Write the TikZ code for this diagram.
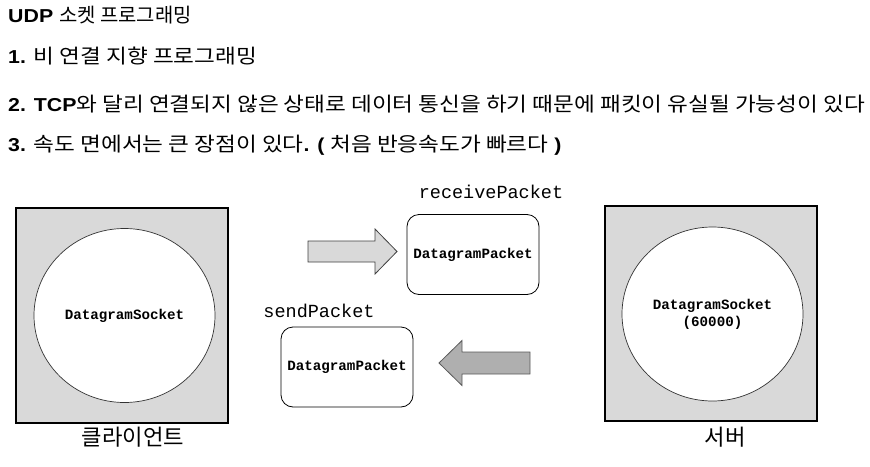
\documentclass[tikz,border=0pt]{standalone}
\usepackage{fontspec}
\setmainfont{Liberation Sans}
\setmonofont{Liberation Mono}
\newfontfamily\kr[Scale=1.06]{Noto Sans CJK KR}
\definecolor{boxgray}{HTML}{D9D9D9}
\definecolor{darkarrow}{HTML}{AFAFAF}
\tikzset{
  headline/.style={anchor=base west, inner sep=0pt, xscale=1.14, transform shape, font=\fontsize{18.7}{20}\selectfont},
  hostbox/.style={draw=black, line width=1.1pt, fill=boxgray},
  sockcircle/.style={draw=black!80, line width=0.7pt, fill=white, ellipse, minimum width=181pt, minimum height=174pt, align=center,
    font=\ttfamily\bfseries\fontsize{14.2}{17}\selectfont},
  packetbox/.style={draw=black, line width=0.8pt, fill=white, rounded corners=12pt, minimum width=132pt, minimum height=80pt,
    font=\ttfamily\bfseries\fontsize{14.2}{16}\selectfont},
  codelabel/.style={inner sep=0pt, font=\ttfamily\fontsize{18.5}{20}\selectfont},
  hostlabel/.style={inner sep=0pt, font=\kr\fontsize{21}{22}\selectfont},
}
\usetikzlibrary{shapes.geometric}
\begin{document}
\begin{tikzpicture}[x=1pt,y=-1pt]
\useasboundingbox (0,0) rectangle (870,466);

% header text
\node[headline] (title) at (8,22.5) {\bfseries UDP \scalebox{0.88}[1]{\kr\mdseries 소켓 프로그래밍}};
\node[headline] (item1) at (8,63.5) {\bfseries 1. {\kr\mdseries 비 연결 지향 프로그래밍}};
\node[headline] (item2) at (8,111.5) {\bfseries 2. TCP{\kr\mdseries 와 달리 연결되지 않은 상태로 데이터 통신을 하기 때문에 패킷이 유실될 가능성이 있다}};
\node[headline] (item3) at (8,151.5) {\bfseries 3. {\kr\mdseries 속도 면에서는 큰 장점이 있다}. ( {\kr\mdseries 처음 반응속도가 빠르다} )};

% client
\draw[hostbox] (16,208) rectangle (228,423);
\node[sockcircle] (clientsock) at (124.5,315.5) {DatagramSocket};
\node[hostlabel] (client) at (133,437) {클라이언트};

% server
\draw[hostbox] (605,206) rectangle (817,421);
\node[sockcircle] (serversock) at (712.5,314) {DatagramSocket\\(60000)};
\node[hostlabel] (server) at (725,437) {서버};

% packets
\node[packetbox] (recvpkt) at (473,254.5) {DatagramPacket};
\node[codelabel] (recvlabel) at (491,192) {receivePacket};
\node[packetbox] (sendpkt) at (347,367) {DatagramPacket};
\node[codelabel] (sendlabel) at (319,311) {sendPacket};

% block arrows
\draw[draw=black!75, line width=0.8pt, fill=boxgray]
  (308,241) -- (375,241) -- (375,229) -- (397,251.5) -- (375,274) -- (375,262) -- (308,262) -- cycle;
\draw[draw=black!65, line width=0.8pt, fill=darkarrow]
  (530,352) -- (462,352) -- (462,340.5) -- (439,363) -- (462,385.5) -- (462,374) -- (530,374) -- cycle;
\end{tikzpicture}
\end{document}
